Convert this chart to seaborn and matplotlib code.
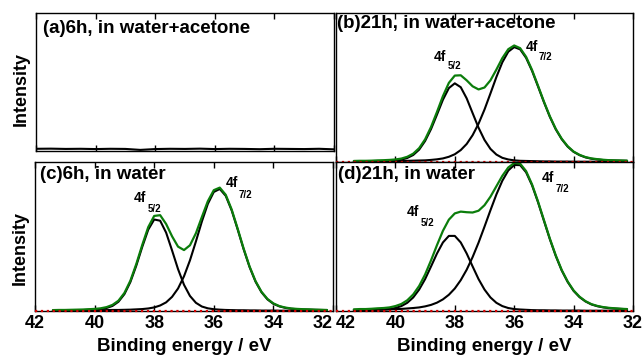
import numpy as np
import matplotlib
matplotlib.use('Agg')
import matplotlib.pyplot as plt
import seaborn as sns

# Binding energy grid (eV) and fitted Pt 4f components (a.u.)
energy = [41.4, 41.2, 41.0, 40.8, 40.6, 40.4, 40.2, 40.0, 39.8, 39.6, 39.4, 39.2,
          39.0, 38.8, 38.6, 38.4, 38.2, 38.0, 37.8, 37.6, 37.4, 37.2, 37.0, 36.8,
          36.6, 36.4, 36.2, 36.0, 35.8, 35.6, 35.4, 35.2, 35.0, 34.8, 34.6, 34.4,
          34.2, 34.0, 33.8, 33.6, 33.4, 33.2, 33.0, 32.8, 32.6, 32.4, 32.2]

# (b) 21h, in water+acetone
b_52 = [3, 4, 4, 5, 6, 7, 8, 11, 16, 27, 47, 83, 141, 221, 318, 418, 496, 528, 502, 427,
        328, 230, 148, 88, 50, 28, 17, 11, 8, 7, 6, 5, 4, 4, 3, 3, 3, 2, 2, 2, 2, 2, 2, 1,
        1, 1, 1]
b_72 = [4, 4, 4, 4, 5, 5, 6, 6, 7, 8, 9, 10, 11, 14, 18, 24, 35, 52, 80, 121, 180, 257,
        352, 460, 570, 669, 740, 771, 756, 699, 612, 508, 402, 303, 219, 153, 103, 68,
        46, 31, 22, 17, 13, 11, 10, 9, 8]

# (c) 6h, in water
c_52 = [3, 4, 4, 5, 5, 6, 8, 9, 13, 20, 34, 62, 113, 194, 305, 431, 546, 614, 606, 526,
        406, 281, 176, 101, 55, 30, 18, 12, 9, 7, 6, 5, 5, 4, 4, 3, 3, 3, 2, 2, 2, 2, 2,
        2, 1, 1, 1]
c_72 = [3, 3, 3, 3, 4, 4, 4, 5, 5, 6, 7, 7, 8, 9, 11, 13, 17, 24, 37, 58, 95, 151, 233,
        340, 467, 601, 719, 799, 819, 773, 675, 548, 415, 295, 197, 126, 78, 48, 31, 21,
        15, 12, 10, 9, 8, 7, 6]

# (d) 21h, in water
d_52 = [4, 5, 5, 6, 8, 10, 13, 20, 33, 55, 91, 144, 214, 299, 386, 460, 504, 504, 460,
        386, 299, 214, 144, 91, 55, 33, 20, 13, 10, 8, 6, 5, 5, 4, 4, 3, 3, 3, 3, 2, 2, 2,
        2, 2, 2, 1, 1]
d_72 = [7, 8, 8, 9, 10, 10, 11, 13, 14, 17, 20, 24, 31, 41, 56, 78, 109, 151, 207, 277,
        362, 459, 566, 676, 782, 874, 943, 980, 979, 931, 844, 731, 606, 482, 369, 272,
        195, 135, 93, 64, 44, 32, 24, 19, 16, 14, 12]

# (a) 6h, in water+acetone: no signal, flat trace
a_energy = [42, 41.5, 41, 40.5, 40, 39.5, 39, 38.5, 38, 37.5, 37, 36.5, 36, 35.5, 35,
            34.5, 34, 33.5, 33, 32.5, 32]
a_int = [16, 17, 15, 16, 14, 16, 15, 8, 14, 16, 15, 17, 14, 16, 15, 13, 16, 15, 14, 16, 12]

sns.set_style('ticks')
plt.rcParams['font.family'] = ['Liberation Sans', 'DejaVu Sans']
plt.rcParams['font.weight'] = 'bold'
plt.rcParams['text.color'] = 'black'
plt.rcParams['axes.labelcolor'] = 'black'
plt.rcParams['axes.edgecolor'] = 'black'
plt.rcParams['xtick.color'] = 'black'

W, H = 643, 355
fig = plt.figure(figsize=(W / 100, H / 100), dpi=100)

def add_ax(l, t, r, b):
    return fig.add_axes([l / W, 1 - b / H, (r - l) / W, (b - t) / H])

ax_a = add_ax(36, 13, 334, 151)
ax_b = add_ax(336, 13, 633, 162)
ax_c = add_ax(35, 162, 333, 311)
ax_d = add_ax(336, 162, 633, 311)

green = '#0b7d0b'
panels = [(ax_b, b_52, b_72), (ax_c, c_52, c_72), (ax_d, d_52, d_72)]
for ax, p52, p72 in panels:
    total = np.add(p52, p72)
    sns.lineplot(x=energy, y=p52, ax=ax, color='black', lw=1.5, sort=False)
    sns.lineplot(x=energy, y=p72, ax=ax, color='black', lw=1.5, sort=False)
    sns.lineplot(x=energy, y=total, ax=ax, color=green, lw=1.6, sort=False)
    ax.axhline(0, color='#d40000', ls=':', lw=1.6, clip_on=False, zorder=5)

sns.lineplot(x=a_energy, y=a_int, ax=ax_a, color='black', lw=1.5, sort=False)

for ax in [ax_a, ax_b, ax_c, ax_d]:
    ax.set_xlim(42, 32)
    ax.set_ylim(0, 1000)
    ax.set_xticks([42, 40, 38, 36, 34, 32])
    ax.set_yticks([])
    ax.set_xlabel('')
    ax.set_ylabel('')
    ax.tick_params(axis='x', direction='in', top=True, bottom=True, length=4, width=1,
                   labelsize=13, pad=3)
    for sp in ax.spines.values():
        sp.set_linewidth(1)
        sp.set_visible(True)

for ax in [ax_a, ax_b]:
    ax.tick_params(labelbottom=False)

for ax in [ax_c, ax_d]:
    ax.set_xlabel('Binding energy / eV', fontsize=13.5, fontweight='bold', labelpad=4)
    for lab in ax.get_xticklabels():
        lab.set_fontweight('bold')
ax_c.get_xticklabels()[-1].set_ha('right')
ax_d.get_xticklabels()[0].set_ha('left')

ax_a.set_ylabel('Intensity', fontsize=13, fontweight='bold')
ax_a.yaxis.set_label_coords(-0.022, 0.45)
ax_c.set_ylabel('Intensity', fontsize=13, fontweight='bold')
ax_c.yaxis.set_label_coords(-0.02, 0.42)

titles = [(ax_a, 0.024, 0.95, '(a)6h, in water+acetone'),
          (ax_b, 0.005, 0.985, '(b)21h, in water+acetone'),
          (ax_c, 0.017, 0.97, '(c)6h, in water'),
          (ax_d, 0.007, 0.97, '(d)21h, in water')]
for ax, x, y, s in titles:
    ax.text(x, y, s, transform=ax.transAxes, fontsize=13.5, fontweight='bold',
            ha='left', va='top')

def peak_label(x4, y4, xs, ys, sub):
    fig.text(x4 / W, 1 - y4 / H, '4f', fontsize=10, fontweight='bold', ha='left', va='top')
    fig.text(xs / W, 1 - ys / H, sub, fontsize=7, fontweight='bold', ha='left', va='top')

peak_label(434, 50, 448, 61, '5/2')
peak_label(526, 40, 539, 52, '7/2')
peak_label(134, 191, 148, 204, '5/2')
peak_label(226, 176, 239, 190, '7/2')
peak_label(407, 205, 421, 218, '5/2')
peak_label(542, 171, 556, 184, '7/2')

fig.savefig('out.png', dpi=100)
